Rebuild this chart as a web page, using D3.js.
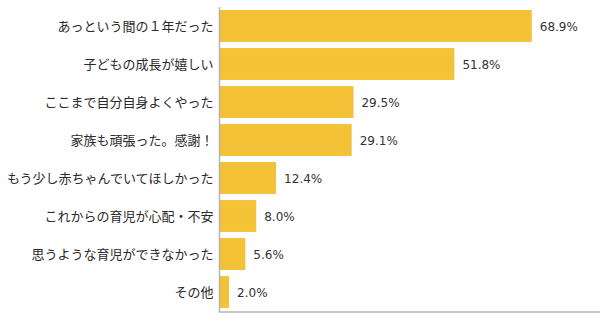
<!DOCTYPE html>
<html>
<head>
<meta charset="utf-8">
<script src="https://cdn.jsdelivr.net/npm/d3@7"></script>
<style>
  html, body { margin: 0; padding: 0; background: #fff; }
  svg { display: block; }
</style>
</head>
<body>
<div id="chart"></div>
<script>
// Survey answers and their share of respondents (%)
const categories = [
  "あっという間の１年だった",
  "子どもの成長が嬉しい",
  "ここまで自分自身よくやった",
  "家族も頑張った。感謝！",
  "もう少し赤ちゃんでいてほしかった",
  "これからの育児が心配・不安",
  "思うような育児ができなかった",
  "その他"
];
const values = [68.9, 51.8, 29.5, 29.1, 12.4, 8.0, 5.6, 2.0];

const width = 600, height = 322;
const axisX = 219.5, plotTop = 7, plotBottom = 311;

const svg = d3.select("#chart").append("svg")
  .attr("width", width).attr("height", height);

const x = d3.scaleLinear().domain([0, 80]).range([axisX + 0.5, axisX + 0.5 + 362]);
const y = d3.scaleBand().domain(categories).range([plotTop, plotBottom])
  .paddingInner(0.16).paddingOuter(0.08);

const font = "'Noto Sans CJK JP', 'Noto Sans', sans-serif";

// bars
svg.selectAll("rect.bar").data(values).enter().append("rect")
  .attr("class", "bar")
  .attr("x", x(0))
  .attr("y", (d, i) => y(categories[i]))
  .attr("width", d => x(d) - x(0))
  .attr("height", y.bandwidth())
  .attr("fill", "#F3C237");

// value labels
svg.selectAll("text.val").data(values).enter().append("text")
  .attr("class", "val")
  .attr("x", d => x(d) + 8)
  .attr("y", (d, i) => y(categories[i]) + y.bandwidth() / 2 + 1)
  .attr("dominant-baseline", "middle")
  .attr("font-family", "'DejaVu Sans', sans-serif")
  .attr("font-size", 12)
  .attr("fill", "#333")
  .text(d => d.toFixed(1) + "%");

// category axis
const yAxis = svg.append("g")
  .attr("transform", `translate(${axisX},0)`)
  .call(d3.axisLeft(y).tickSize(0).tickPadding(6));
yAxis.select(".domain").remove();
yAxis.selectAll("text")
  .attr("font-family", font)
  .attr("font-size", 13)
  .attr("fill", "#2a2a2a")
  .attr("dy", "0.4em");

// axis lines
svg.append("line")
  .attr("x1", axisX).attr("x2", axisX)
  .attr("y1", plotTop).attr("y2", plotBottom + 1)
  .attr("stroke", "#b4b4b4").attr("stroke-width", 1.5);
svg.append("line")
  .attr("x1", axisX - 0.75).attr("x2", width)
  .attr("y1", plotBottom + 1).attr("y2", plotBottom + 1)
  .attr("stroke", "#b4b4b4").attr("stroke-width", 1.5);
</script>
</body>
</html>
